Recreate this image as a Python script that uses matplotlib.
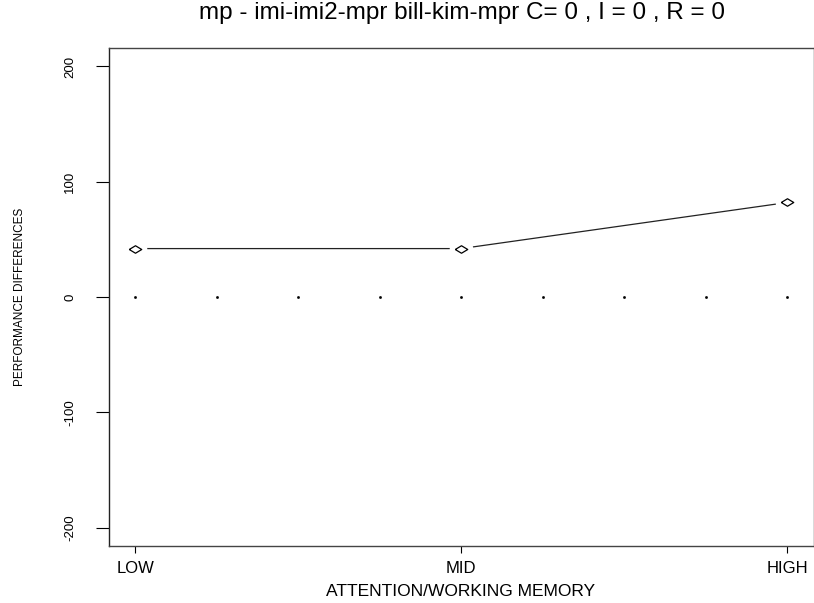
import matplotlib
matplotlib.use("Agg")
import matplotlib.pyplot as plt
import numpy as np

# data
levels = ["LOW", "MID", "HIGH"]
level_x = [1, 2, 3]
perf_diff = [42, 42, 82]
ref_x = [1, 1.25, 1.5, 1.75, 2, 2.25, 2.5, 2.75, 3]
ref_y = [0, 0, 0, 0, 0, 0, 0, 0, 0]
yticks = [-200, -100, 0, 100, 200]

plt.rcParams['font.family'] = ['Liberation Sans', 'DejaVu Sans']

fig = plt.figure(figsize=(8.14, 6.03), dpi=100)
ax = fig.add_axes([109/814, 57/603, 704.5/814, 498/603])

# line with gaps at the points (R type="b")
ax.plot(level_x, perf_diff, color='#222222', lw=0.9, zorder=1)
ax.plot(level_x, perf_diff, 'o', ms=17, mfc='white', mec='none', zorder=2)
diamond = [(-1, 0), (0, 0.6), (1, 0), (0, -0.6), (-1, 0)]
ax.plot(level_x, perf_diff, ls='none', marker=diamond, ms=9, mfc='white',
        mec='black', mew=0.9, zorder=3)
ax.plot(ref_x, ref_y, ls='none', marker='s', ms=0.9, color='black', zorder=3)

ax.set_xlim(0.92, 3.08)
ax.set_ylim(-216, 216)
ax.set_xticks(level_x)
ax.set_xticklabels(levels, fontsize=12)
ax.set_yticks(yticks)
ax.set_yticklabels([str(v) for v in yticks], rotation=90, va='center',
                   fontsize=9.5)
ax.tick_params(axis='x', length=5, width=0.8, pad=5.5)
ax.tick_params(axis='y', length=9.5, width=0.8, pad=14)
for s in ax.spines.values():
    s.set_color('#444444')
    s.set_linewidth(1.0)
ax.spines['left'].set_color('#222222')

fig.text(462/814, 1 - 13/603, "mp - imi-imi2-mpr bill-kim-mpr C= 0 , I = 0 , R = 0",
         ha='center', va='center', fontsize=17.5)
fig.text(461/814, 1 - 591/603, "ATTENTION/WORKING MEMORY", ha='center',
         va='center', fontsize=12.5)
fig.text(20/814, 1 - 297/603, "PERFORMANCE DIFFERENCES", rotation=90,
         ha='center', va='center', fontsize=8.5)

fig.savefig("out.png", dpi=100)
